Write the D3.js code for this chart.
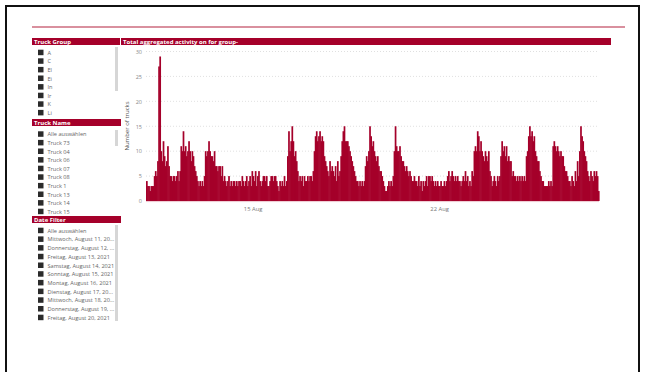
<!DOCTYPE html>
<html><head><meta charset="utf-8">
<script src="https://cdn.jsdelivr.net/npm/d3@7"></script>
<style>
html,body{margin:0;padding:0;background:#fff;}
svg{display:block;font-family:"Open Sans","Noto Sans",sans-serif;}
</style></head>
<body><svg id="c" width="645" height="372"></svg>
<script>
// ---------- DATA ----------
const startDate = "2021-08-11";
// hourly aggregated truck counts, one row per day (Aug 11 .. Aug 27)
const aug11 = [4,3,3,2,3,3,3,5,6,5,8,27,29,10,8,12,9,7,8,11,7,5,5,4];
const aug12 = [5,5,4,5,6,4,6,11,10,14,10,11,9,10,12,10,8,10,9,7,6,5,4,3];
const aug13 = [4,3,4,3,5,10,9,10,12,10,9,9,8,10,7,7,6,7,7,5,7,4,5,4];
const aug14 = [3,4,5,3,4,3,4,4,3,4,3,4,4,3,5,4,3,4,5,3,4,5,3,6];
const aug15 = [5,4,6,3,5,6,4,3,4,5,5,4,5,3,3,4,5,5,4,5,5,4,3,2];
const aug16 = [4,3,4,3,5,3,4,9,14,10,12,15,12,9,10,8,6,4,5,4,5,3,5,4];
const aug17 = [4,5,4,5,5,4,6,10,13,14,12,13,14,12,13,12,9,8,7,6,5,8,6,7];
const aug18 = [6,5,7,4,8,5,6,9,12,14,15,12,12,12,11,10,9,8,7,6,5,4,4,3];
const aug19 = [4,3,4,3,4,7,9,8,10,15,13,11,12,10,9,8,9,7,6,6,5,4,3,2];
const aug20 = [2,3,4,3,4,3,5,10,15,11,10,10,11,9,8,8,7,6,7,6,5,6,5,4];
const aug21 = [4,5,4,4,3,5,3,4,2,4,3,4,5,3,5,5,4,5,4,3,4,3,4,3];
const aug22 = [3,4,3,3,4,3,4,5,6,4,5,6,5,4,5,4,5,4,4,3,4,5,4,6];
const aug23 = [4,5,3,4,3,6,5,10,11,10,14,13,10,12,10,9,8,10,9,8,10,6,5,3];
const aug24 = [4,5,4,3,5,4,5,9,12,10,11,9,11,8,9,8,8,5,6,5,5,4,5,4];
const aug25 = [5,4,5,4,5,4,9,10,13,15,13,14,12,13,10,9,8,8,6,5,4,4,3,3];
const aug26 = [3,3,4,3,4,3,11,12,11,10,11,10,9,10,9,9,7,6,6,5,4,4,3,5];
const aug27 = [4,3,6,4,8,5,10,15,13,12,10,9,8,6,5,4,6,5,4,6,5,6,5,2];
const days = [aug11,aug12,aug13,aug14,aug15,aug16,aug17,aug18,aug19,aug20,aug21,aug22,aug23,aug24,aug25,aug26,aug27];

const yTicks = [0,5,10,15,20,25,30];
const xTickDates = ["2021-08-15","2021-08-22"];

const truckGroups = ["A","C","El","Ei","In","Ir","K","Li"];
const truckNames = ["Alle auswählen","Truck 73","Truck 04","Truck 06","Truck 07","Truck 08","Truck 1","Truck 13","Truck 14","Truck 15"];
const dateItems = ["Alle auswählen","Mittwoch, August 11, 20...","Donnerstag, August 12, ...","Freitag, August 13, 2021","Samstag, August 14, 2021","Sonntag, August 15, 2021","Montag, August 16, 2021","Dienstag, August 17, 20...","Mittwoch, August 18, 20...","Donnerstag, August 19, ...","Freitag, August 20, 2021"];

const chartTitle = "Total aggregated activity on for group-";
const yTitle = "Number of trucks";

// ---------- BUILD ----------
const RED = "#a5002a";
const svg = d3.select("#c");
const parse = d3.utcParse("%Y-%m-%d");
const t0 = parse(startDate);
const data = [];
days.forEach((arr,di)=>arr.forEach((v,h)=>{
  data.push({t: d3.utcHour.offset(t0, di*24+h), v});
}));
const tEnd = d3.utcHour.offset(t0, data.length);

// outer frame
svg.append("rect").attr("x",6).attr("y",6).attr("width",633).attr("height",372)
  .attr("fill","none").attr("stroke","#111").attr("stroke-width",2);
// top pink rule
svg.append("rect").attr("x",32).attr("y",26).attr("width",593).attr("height",2).attr("fill","#d9909e");

// header bars
function header(x,w,y,label){
  svg.append("rect").attr("x",x).attr("y",y).attr("width",w).attr("height",7).attr("fill",RED);
  svg.append("text").attr("x",x+2).attr("y",y+5.6).attr("fill","#fff")
    .attr("font-size",6).attr("font-weight",700).text(label);
}
header(32,88,38,"Truck Group");
header(121,490,38,chartTitle);
header(32,89,119,"Truck Name");
header(32,89,216,"Date Filter");

function list(items,y0,step){
  const g = svg.append("g");
  items.forEach((s,i)=>{
    const y = y0 + i*step;
    g.append("rect").attr("x",38).attr("y",y-3).attr("width",5.5).attr("height",5.5).attr("fill","#2b2b2b");
    g.append("text").attr("x",47.5).attr("y",y+2).attr("font-size",5.6).attr("fill","#666").text(s);
  });
  return g;
}
const defs = svg.append("defs");
function clip(id,y,h){ defs.append("clipPath").attr("id",id).append("rect").attr("x",30).attr("y",y).attr("width",90).attr("height",h); }
clip("c1",46,71); clip("c2",127,88); clip("c3",224,100);
list(truckGroups,52.7,8.6).attr("clip-path","url(#c1)");
list(truckNames,134.3,8.6).attr("clip-path","url(#c2)");
list(dateItems,230.7,8.7).attr("clip-path","url(#c3)");
// scrollbars
[[47,44],[130,16],[225,96]].forEach(([y,h])=>{
  svg.append("rect").attr("x",115).attr("y",y).attr("width",3).attr("height",h).attr("fill","#d6d6d6");
});

// chart
const x = d3.scaleUtc().domain([t0,tEnd]).range([146,599]);
const y = d3.scaleLinear().domain([0,30]).range([201,51.5]);

svg.append("g").selectAll("line").data(yTicks.filter(d=>d>0)).join("line")
  .attr("x1",146).attr("x2",599).attr("y1",d=>y(d)).attr("y2",d=>y(d))
  .attr("stroke","#d8d8d8").attr("stroke-width",0.8).attr("stroke-dasharray","1,2");

const yAxis = svg.append("g").attr("transform","translate(146,0)")
  .call(d3.axisLeft(y).tickValues(yTicks).tickSize(0).tickPadding(4));
yAxis.select(".domain").remove();
yAxis.selectAll("text").attr("font-size",5.5).attr("fill","#888").attr("font-family","'Open Sans',sans-serif");

const xAxis = svg.append("g").attr("transform","translate(0,202)")
  .call(d3.axisBottom(x).tickValues(xTickDates.map(parse)).tickFormat(d3.utcFormat("%-d %b")).tickSize(0).tickPadding(5));
xAxis.select(".domain").remove();
xAxis.selectAll("text").attr("font-size",5.8).attr("fill","#777").attr("font-family","'Open Sans',sans-serif");

// bars
svg.append("g").selectAll("rect").data(data).join("rect")
  .attr("x",d=>x(d.t))
  .attr("width",d=>x(d3.utcHour.offset(d.t,1))-x(d.t)+0.6)
  .attr("y",d=>y(d.v))
  .attr("height",d=>y(0)-y(d.v))
  .attr("fill",RED);

svg.append("line").attr("x1",146).attr("x2",599).attr("y1",201.6).attr("y2",201.6)
  .attr("stroke","#e8b7c1").attr("stroke-width",0.8);

svg.append("text").attr("transform","translate(129,126) rotate(-90)")
  .attr("text-anchor","middle").attr("font-size",6).attr("fill","#555").text(yTitle);
</script>
</body></html>
